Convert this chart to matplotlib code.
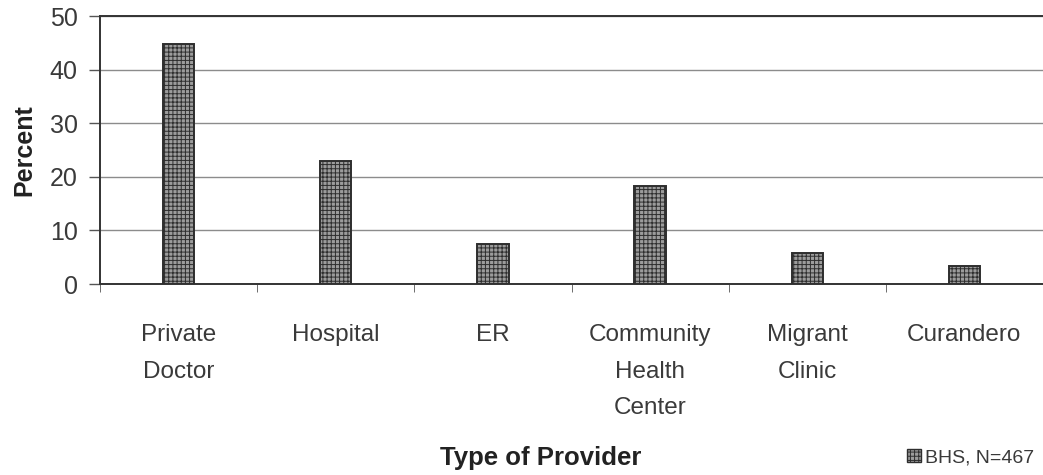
import numpy as np
import matplotlib.pyplot as plt
from matplotlib.patches import Patch

# provider categories and share of respondents (percent)
providers = ["Private\nDoctor", "Hospital", "ER", "Community\nHealth\nCenter",
             "Migrant\nClinic", "Curandero"]
percent = [44.7, 22.9, 7.5, 18.3, 5.8, 3.4]
y_ticks = [0, 10, 20, 30, 40, 50]
series_label = "BHS, N=467"

plt.rcParams.update({
    "font.family": ["Liberation Sans", "DejaVu Sans"],
    "hatch.color": "#6a6a6a",
    "hatch.linewidth": 0.7,
})

fig = plt.figure(figsize=(10.43, 4.75), dpi=100)
ax = fig.add_axes([0.0959, 0.4021, 0.9041, 0.5642])

x = np.arange(len(providers))
ax.bar(x, percent, width=0.2, facecolor="#9c9c9c", edgecolor="#2e2e2e",
       linewidth=1.4, hatch="++++", zorder=3)

ax.set_xlim(-0.5, len(providers) - 0.5)
ax.set_ylim(0, 50)
ax.set_yticks(y_ticks)
ax.yaxis.grid(True, color="#8c8c8c", linewidth=1.0, zorder=0)

ax.set_xticks(x)
ax.set_xticklabels(providers, fontsize=17.5, color="#3a3a3a", linespacing=1.85)
ax.set_xticks(np.arange(len(providers) + 1) - 0.5, minor=True)
ax.tick_params(axis="x", which="major", length=0, pad=29)
ax.tick_params(axis="x", which="minor", length=6, color="#555555", direction="out")
ax.tick_params(axis="y", length=8, width=1.0, color="#555555", pad=8,
               labelsize=18, labelcolor="#3a3a3a")

for side in ["left", "bottom", "top"]:
    ax.spines[side].set_color("#333333")
    ax.spines[side].set_linewidth(1.4)
ax.spines["right"].set_visible(False)

ax.set_ylabel("Percent", fontsize=18, fontweight="bold", color="#222222", labelpad=10)
fig.text(0.518, 0.035, "Type of Provider", ha="center", va="center",
         fontsize=18.5, fontweight="bold", color="#222222")

handle = Patch(facecolor="#9c9c9c", edgecolor="#2e2e2e", hatch="++++", linewidth=1.0)
fig.legend([handle], [series_label], loc="center left",
           bbox_to_anchor=(0.853, 0.037), frameon=False, fontsize=14,
           handlelength=0.7, handleheight=0.7, handletextpad=0.2,
           labelcolor="#3a3a3a")

fig.savefig("out.png", dpi=100)
